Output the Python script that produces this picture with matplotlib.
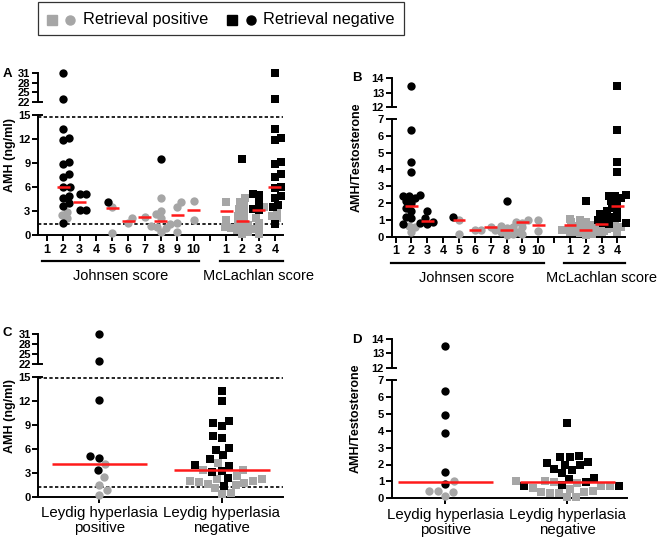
import matplotlib
matplotlib.use('Agg')
import matplotlib.pyplot as plt
import numpy as np
from matplotlib.lines import Line2D
from matplotlib.patches import Rectangle

plt.rcParams['font.family'] = ['Liberation Sans', 'DejaVu Sans']

# ---------------- data ----------------
johnsen_labels = ['1', '2', '3', '4', '5', '6', '7', '8', '9', '10']
mclachlan_labels = ['1', '2', '3', '4']
leydig_labels = ['Leydig hyperlasia\npositive', 'Leydig hyperlasia\nnegative']

# Panel A: AMH (ng/ml) by Johnsen score (one list per score) and McLachlan score
amh_johnsen_pos = [[], [2.9, 2.5, 2.1], [], [], [3.5, 0.25], [2.1, 1.5], [2.25],
                   [4.6, 3.0, 2.6, 2.2, 1.4, 1.2, 1.0, 0.9, 0.4], [4.1, 3.5, 1.5, 0.45], [4.3, 1.9]]
amh_johnsen_neg = [[], [31, 23, 13.3, 12.1, 11.9, 9.2, 8.9, 7.6, 7.3, 6.0, 6.0, 4.9, 4.7, 4.0, 3.6, 1.5],
                   [5.2, 5.1, 3.2, 3.1], [], [4.1], [], [], [9.5], [], []]
amh_johnsen_med = [None, 6.0, 4.15, None, 3.4, 1.75, 2.25, 1.8, 2.5, 3.1]
amh_mcl_pos = [[4.2, 1.9],
               [4.6, 4.2, 3.7, 3.3, 2.8, 2.4, 2.0, 1.6, 1.3, 1.1, 1.0, 1.0, 0.9, 0.8, 0.6, 0.4, 0.2],
               [3.5, 2.2, 1.5, 0.2], [2.9, 2.4, 2.1]]
amh_mcl_neg = [[], [9.5], [5.2, 5.0, 4.0, 3.3, 3.1],
               [31, 23, 13.2, 12.1, 11.9, 9.2, 8.9, 7.6, 7.3, 6.0, 5.9, 4.9, 4.7, 3.8, 3.5, 1.4]]
amh_mcl_med = [3.05, 1.8, 3.1, 6.0]

# Panel B: AMH/Testosterone
ratio_johnsen_pos = [[], [0.65, 0.6, 0.3], [], [], [1.0, 0.15], [0.42, 0.42], [0.58],
                     [0.65, 0.6, 0.55, 0.5, 0.4, 0.3, 0.25, 0.15, 0.1], [1.0, 0.9, 0.8, 0.15], [1.0, 0.33]]
ratio_johnsen_neg = [[], [13.5, 6.35, 4.45, 3.85, 2.5, 2.45, 2.4, 2.3, 2.1, 2.0, 1.7, 1.5, 1.2, 1.1, 0.8, 0.75],
                     [1.5, 1.1, 0.9, 0.75], [], [1.15], [], [], [2.15], [], []]
ratio_johnsen_med = [None, 1.83, 0.95, None, 1.02, 0.42, 0.58, 0.4, 0.86, 0.67]
ratio_mcl_pos = [[1.05, 0.3],
                 [1.0, 0.9, 0.85, 0.75, 0.65, 0.6, 0.55, 0.5, 0.45, 0.4, 0.4, 0.35, 0.3, 0.25, 0.2, 0.15, 0.1],
                 [0.7, 0.6, 0.45, 0.3], [0.65, 0.6, 0.3]]
ratio_mcl_neg = [[], [2.15], [1.5, 1.35, 1.15, 1.0, 0.8],
                 [13.5, 6.35, 4.45, 3.85, 2.5, 2.45, 2.4, 2.3, 2.1, 2.0, 1.7, 1.5, 1.2, 1.1, 0.8, 0.75]]
ratio_mcl_med = [0.67, 0.42, 0.76, 1.83]

# Panel C: AMH by Leydig hyperplasia
amh_leydig_pos = [[4.1, 2.5, 1.5, 0.85, 0.2],
                  [4.25, 3.4, 3.4, 2.65, 2.2, 2.2, 2.0, 2.0, 1.9, 1.7, 1.65, 1.45, 1.05, 0.5, 0.3]]
amh_leydig_neg = [[31, 23, 12.1, 5.1, 4.9, 3.4],
                  [13.25, 12.0, 9.5, 9.2, 8.9, 7.6, 7.35, 6.05, 5.9, 5.2, 4.75, 3.95, 3.9, 3.2, 3.1, 2.4, 1.4]]
amh_leydig_med = [4.05, 3.35]

# Panel D: AMH/Testosterone by Leydig hyperplasia
ratio_leydig_pos = [[1.0, 0.45, 0.4, 0.45, 0.15],
                    [1.0, 1.0, 0.95, 0.9, 0.75, 0.7, 0.6, 0.55, 0.45, 0.4, 0.35, 0.3, 0.3, 0.1, 0.05]]
ratio_leydig_neg = [[13.5, 6.35, 4.9, 3.85, 1.55, 0.85],
                    [4.45, 2.5, 2.45, 2.45, 2.15, 2.1, 2.0, 1.95, 1.75, 1.65, 1.5, 1.2, 1.15, 0.95, 0.8, 0.75, 0.75]]
ratio_leydig_med = [0.98, 0.95]

# ---------------- style ----------------
GRAY = '#a6a6a6'
BLACK = '#000000'
RED = '#ff1a1a'
W, H = 660, 541
MS = 36          # marker area (pt^2)

fig = plt.figure(figsize=(W / 100, H / 100), dpi=100)


def add_ax(x0, y0, x1, y1):
    # box given in pixels, measured from the top-left of the figure
    return fig.add_axes([x0 / W, 1 - y1 / H, (x1 - x0) / W, (y1 - y0) / H])


def make_panel(lo_box, hi_box, xlim, lo_lim, hi_lim, lo_ticks, hi_ticks):
    lo = add_ax(*lo_box)
    hi = add_ax(*hi_box)
    for ax, lim, ticks in ((lo, lo_lim, lo_ticks), (hi, hi_lim, hi_ticks)):
        ax.set_xlim(xlim)
        ax.set_ylim(lim)
        ax.spines[['top', 'right']].set_visible(False)
        ax.spines['left'].set_linewidth(1.4)
        ax.set_yticks(ticks, [str(t) for t in ticks], fontweight='bold')
        ax.tick_params(axis='y', direction='out', length=4, width=1.4, labelsize=8, pad=1.5)
        ax.patch.set_alpha(0)
    lo.spines['bottom'].set_linewidth(1.4)
    hi.spines['bottom'].set_visible(False)
    hi.tick_params(axis='x', bottom=False, labelbottom=False)
    # little stubs marking the break of the y axis
    lo.plot([0, 4 / (lo_box[2] - lo_box[0])], [1, 1], transform=lo.transAxes,
            color='k', lw=1.4, clip_on=False)
    hi.plot([0, 4 / (hi_box[2] - hi_box[0])], [0, 0], transform=hi.transAxes,
            color='k', lw=1.4, clip_on=False)
    return lo, hi


def spread(ax, xc, ys, d):
    # beeswarm: each point goes as close to the column centre as it can
    # without coming nearer than d pixels to a point already placed
    tr = ax.transData
    ys = np.asarray(ys, float)
    py = tr.transform(np.column_stack([np.full(len(ys), xc), ys]))[:, 1]
    x0 = tr.transform((xc, 0))[0]
    px = np.empty(len(ys))
    placed = []
    flip = 1
    for i in np.argsort(py):
        cand = [0.0]
        for qx, qy in placed:
            dy = abs(py[i] - qy)
            if dy < d:
                dx = np.sqrt(d * d - dy * dy)
                cand += [qx - x0 + dx, qx - x0 - dx]
        cand.sort(key=lambda c: (round(abs(c), 3), flip * c))
        for c in cand:
            if all((x0 + c - qx) ** 2 + (py[i] - qy) ** 2 >= d * d - 1e-6 for qx, qy in placed):
                px[i] = x0 + c
                break
        flip = -flip
        placed.append((px[i], py[i]))
    return tr.inverted().transform(np.column_stack([px, py]))[:, 0]


def draw_column(lo, hi, x, pos, neg, marker, brk, d):
    for ax, keep in ((lo, lambda v: v <= brk), (hi, lambda v: v > brk)):
        p = [v for v in pos if keep(v)]
        n = [v for v in neg if keep(v)]
        if not p and not n:
            continue
        xs = spread(ax, x, p + n, d)
        ax.scatter(xs[:len(p)], p, c=GRAY, marker=marker, s=MS, linewidths=0,
                   clip_on=False, zorder=3)
        ax.scatter(xs[len(p):], n, c=BLACK, marker=marker, s=MS, linewidths=0,
                   clip_on=False, zorder=4)


def draw_median(ax, x, m, w):
    if m is not None:
        ax.plot([x - w / 2, x + w / 2], [m, m], color=RED, lw=1.8, zorder=5, solid_capstyle='butt')


def score_axis(lo, box):
    pos = list(range(1, 16))
    lo.set_xticks(pos, johnsen_labels + [''] + mclachlan_labels, fontweight='bold')
    lo.tick_params(axis='x', direction='out', length=4, width=1.4, labelsize=9, pad=2)
    h = box[3] - box[1]
    yl = -26 / h
    yt = -41 / h
    tr = lo.get_xaxis_transform()
    lo.plot([0.68, 10.35], [yl, yl], transform=tr, color='k', lw=1.6, clip_on=False)
    lo.plot([11.6, 15.5], [yl, yl], transform=tr, color='k', lw=1.6, clip_on=False)
    lo.text(5.5, yt, 'Johnsen score', transform=tr, ha='center', va='center', fontsize=10.5)
    lo.text(14.0, yt, 'McLachlan score', transform=tr, ha='center', va='center', fontsize=10.5)


def score_panel(lo, hi, pos_j, neg_j, med_j, pos_m, neg_m, med_m, brk):
    for i in range(len(johnsen_labels)):
        draw_column(lo, hi, i + 1, pos_j[i], neg_j[i], 'o', brk, 6.2)
        draw_median(lo, i + 1, med_j[i], 0.8)
    for i in range(len(mclachlan_labels)):
        draw_column(lo, hi, i + 12, pos_m[i], neg_m[i], 's', brk, 6.2)
        draw_median(lo, i + 12, med_m[i], 0.8)


def leydig_panel(lo, hi, pos, neg, med, brk):
    markers = ['o', 's']
    for i in range(2):
        draw_column(lo, hi, i, pos[i], neg[i], markers[i], brk, 9.0)
        draw_median(lo, i, med[i], 0.78)
    lo.set_xticks([0, 1], leydig_labels)
    lo.tick_params(axis='x', direction='out', length=4, width=1.4, labelsize=10.8, pad=3)
    for lab in lo.get_xticklabels():
        lab.set_linespacing(1.05)


# ---------------- panel A ----------------
boxA_lo = (38, 115, 283, 235.3)
boxA_hi = (38, 72.7, 283, 102.3)
a_lo, a_hi = make_panel(boxA_lo, boxA_hi, (0.44, 15.5), (0, 15), (22, 31),
                        [0, 3, 6, 9, 12, 15], [22, 25, 28, 31])
for yv in (14.8, 1.4):
    a_lo.axhline(yv, color='k', ls=(0, (2, 1.4)), lw=1.2, zorder=2)
score_panel(a_lo, a_hi, amh_johnsen_pos, amh_johnsen_neg, amh_johnsen_med,
            amh_mcl_pos, amh_mcl_neg, amh_mcl_med, 15)
score_axis(a_lo, boxA_lo)

# ---------------- panel B ----------------
boxB_lo = (391.7, 119, 625, 236.7)
boxB_hi = (391.7, 78.3, 625, 107.3)
b_lo, b_hi = make_panel(boxB_lo, boxB_hi, (0.75, 15.48), (0, 7), (12, 14),
                        list(range(8)), [12, 13, 14])
score_panel(b_lo, b_hi, ratio_johnsen_pos, ratio_johnsen_neg, ratio_johnsen_med,
            ratio_mcl_pos, ratio_mcl_neg, ratio_mcl_med, 7)
score_axis(b_lo, boxB_lo)

# ---------------- panel C ----------------
boxC_lo = (38.3, 376.7, 283, 496.7)
boxC_hi = (38.3, 334.3, 283, 364)
c_lo, c_hi = make_panel(boxC_lo, boxC_hi, (-0.5, 1.5), (0, 15), (22, 31),
                        [0, 3, 6, 9, 12, 15], [22, 25, 28, 31])
for yv in (14.8, 1.25):
    c_lo.axhline(yv, color='k', ls=(0, (2, 1.4)), lw=1.2, zorder=2)
leydig_panel(c_lo, c_hi, amh_leydig_pos, amh_leydig_neg, amh_leydig_med, 15)

# ---------------- panel D ----------------
boxD_lo = (391.7, 380, 626.7, 498.3)
boxD_hi = (391.7, 339, 626.7, 367.7)
d_lo, d_hi = make_panel(boxD_lo, boxD_hi, (-0.44, 1.49), (0, 7), (12, 14),
                        list(range(8)), [12, 13, 14])
leydig_panel(d_lo, d_hi, ratio_leydig_pos, ratio_leydig_neg, ratio_leydig_med, 7)

# ---------------- labels ----------------
ylab = dict(rotation=90, ha='center', va='center', fontsize=9, fontweight='bold')
fig.text(10.5 / W, 1 - 155 / H, 'AMH (ng/ml)', **ylab)
fig.text(357 / W, 1 - 157 / H, 'AMH/Testosterone', **ylab)
fig.text(10.5 / W, 1 - 416 / H, 'AMH (ng/ml)', **ylab)
fig.text(356 / W, 1 - 418 / H, 'AMH/Testosterone', **ylab)
for letter, x, y in (('A', 7, 73.5), ('B', 357, 78), ('C', 7, 333), ('D', 357, 340)):
    fig.text(x / W, 1 - y / H, letter, ha='center', va='center', fontsize=9.5, fontweight='bold')

# ---------------- legend ----------------
fig.add_artist(Rectangle((37.7 / W, 1 - 35 / H), (404 - 37.7) / W, 33 / H,
                         transform=fig.transFigure, fill=False, ec='#333333', lw=0.9))
ly = 1 - 19.5 / H
for x, mk, col in ((52, 's', GRAY), (70, 'o', GRAY), (231.7, 's', BLACK), (250.7, 'o', BLACK)):
    fig.add_artist(Line2D([x / W], [ly], marker=mk, ms=6.5, color=col, ls='none',
                          transform=fig.transFigure))
fig.text(83 / W, ly, 'Retrieval positive', ha='left', va='center', fontsize=11.8)
fig.text(262.7 / W, ly, 'Retrieval negative', ha='left', va='center', fontsize=11.8)

fig.savefig('out.png', dpi=100)
